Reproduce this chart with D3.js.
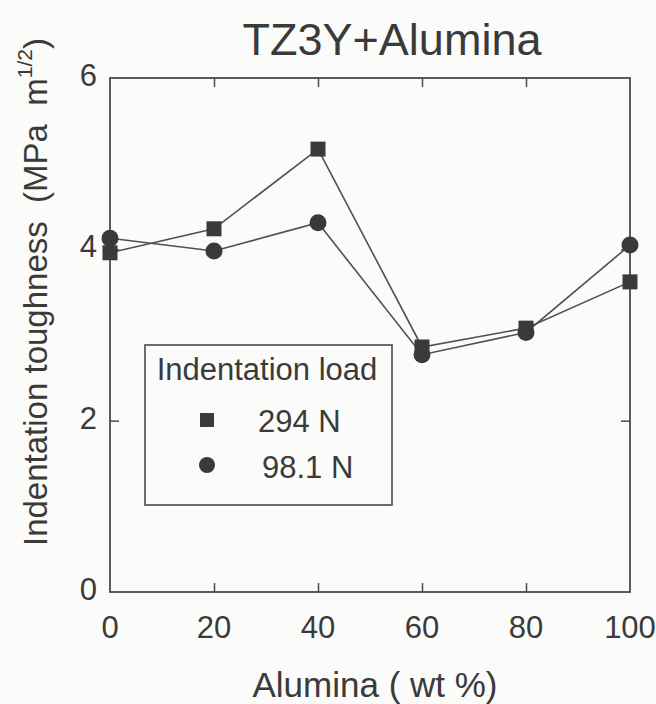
<!DOCTYPE html>
<html>
<head>
<meta charset="utf-8">
<script src="https://cdn.jsdelivr.net/npm/d3@7"></script>
<style>
  html, body { margin: 0; padding: 0; background: #fbfbf9; }
  text { font-family: "Liberation Sans", Arial, sans-serif; fill: #3a3a3a; }
</style>
</head>
<body>
<div id="chart"></div>
<script>
const width = 656;
const height = 704;

const alumina = [0, 20, 40, 60, 80, 100];
const load294 = [3.96, 4.24, 5.17, 2.86, 3.08, 3.62];
const load981 = [4.13, 3.98, 4.31, 2.77, 3.03, 4.05];
const xTicks = [0, 20, 40, 60, 80, 100];
const yTicks = [0, 2, 4, 6];

const margin = { top: 78, right: 26, bottom: 112, left: 110 };

const svg = d3.select('#chart')
    .append('svg')
    .attr('width', width)
    .attr('height', height);

const x = d3.scaleLinear()
    .domain([0, 100])
    .range([margin.left, width - margin.right]);

const y = d3.scaleLinear()
    .domain([0, 6])
    .range([height - margin.bottom, margin.top]);

const ink = '#4a4a4a';

// frame
svg.append('rect')
    .attr('x', x(0))
    .attr('y', y(6))
    .attr('width', x(100) - x(0))
    .attr('height', y(0) - y(6))
    .attr('fill', 'none')
    .attr('stroke', ink)
    .attr('stroke-width', 1.8);

// inward ticks on all sides
const tickLen = 9;
const inner = v => v > 0 && v < 100;
svg.append('g')
    .attr('transform', `translate(0,${y(0)})`)
    .call(d3.axisBottom(x).tickValues(xTicks.filter(inner)).tickSizeInner(-tickLen).tickFormat(''))
    .call(g => g.select('.domain').remove());
svg.append('g')
    .attr('transform', `translate(0,${y(6)})`)
    .call(d3.axisTop(x).tickValues(xTicks.filter(inner)).tickSizeInner(-tickLen).tickFormat(''))
    .call(g => g.select('.domain').remove());
svg.append('g')
    .attr('transform', `translate(${x(0)},0)`)
    .call(d3.axisLeft(y).tickValues([2, 4]).tickSizeInner(-tickLen).tickFormat(''))
    .call(g => g.select('.domain').remove());
svg.append('g')
    .attr('transform', `translate(${x(100)},0)`)
    .call(d3.axisRight(y).tickValues([2, 4]).tickSizeInner(-tickLen).tickFormat(''))
    .call(g => g.select('.domain').remove());
svg.selectAll('.tick line').attr('stroke', ink).attr('stroke-width', 1.5);

// tick labels
svg.append('g').selectAll('text')
    .data(xTicks)
    .enter()
    .append('text')
    .attr('x', d => x(d))
    .attr('y', y(0) + 46)
    .attr('text-anchor', 'middle')
    .attr('font-size', 31)
    .text(d => d);

svg.append('g').selectAll('text')
    .data(yTicks)
    .enter()
    .append('text')
    .attr('x', x(0) - 13)
    .attr('y', d => y(d) + 8)
    .attr('text-anchor', 'end')
    .attr('font-size', 31)
    .text(d => d);

// series
const line = d3.line()
    .x((d, i) => x(alumina[i]))
    .y(d => y(d));

[load294, load981].forEach(series => {
    svg.append('path')
        .datum(series)
        .attr('d', line)
        .attr('fill', 'none')
        .attr('stroke', '#505050')
        .attr('stroke-width', 1.6);
});

const markSize = 15;
svg.append('g').selectAll('rect')
    .data(load294)
    .enter()
    .append('rect')
    .attr('x', (d, i) => x(alumina[i]) - markSize / 2)
    .attr('y', d => y(d) - markSize / 2)
    .attr('width', markSize)
    .attr('height', markSize)
    .attr('fill', '#3a3a3a');

svg.append('g').selectAll('circle')
    .data(load981)
    .enter()
    .append('circle')
    .attr('cx', (d, i) => x(alumina[i]))
    .attr('cy', d => y(d))
    .attr('r', 8.5)
    .attr('fill', '#3a3a3a');

// title
svg.append('text')
    .attr('x', 392)
    .attr('y', 55)
    .attr('text-anchor', 'middle')
    .attr('font-size', 45)
    .text('TZ3Y+Alumina');

// axis titles
svg.append('text')
    .attr('x', 375)
    .attr('y', 697)
    .attr('text-anchor', 'middle')
    .attr('font-size', 35)
    .text('Alumina ( wt %)');

const yTitle = svg.append('text')
    .attr('transform', 'translate(47,546) rotate(-90)')
    .attr('text-anchor', 'start')
    .attr('font-size', 33)
    .style('white-space', 'pre');
yTitle.append('tspan').text('Indentation toughness  (MPa  m');
yTitle.append('tspan').attr('dy', -15).attr('font-size', 21).text('1/2');
yTitle.append('tspan').attr('dy', 15).text(')');

// legend
const legend = svg.append('g').attr('transform', 'translate(145,345)');
legend.append('rect')
    .attr('width', 247)
    .attr('height', 160)
    .attr('fill', '#fbfbf9')
    .attr('stroke', ink)
    .attr('stroke-width', 1.6);
legend.append('text')
    .attr('x', 122)
    .attr('y', 35)
    .attr('text-anchor', 'middle')
    .attr('font-size', 31)
    .text('Indentation load');
legend.append('rect')
    .attr('x', 55)
    .attr('y', 68)
    .attr('width', 14)
    .attr('height', 14)
    .attr('fill', '#3a3a3a');
legend.append('circle')
    .attr('cx', 62)
    .attr('cy', 120)
    .attr('r', 8)
    .attr('fill', '#3a3a3a');
legend.append('text')
    .attr('x', 113)
    .attr('y', 87)
    .attr('font-size', 31)
    .text('294 N');
legend.append('text')
    .attr('x', 117)
    .attr('y', 133)
    .attr('font-size', 31)
    .text('98.1 N');
</script>
</body>
</html>
